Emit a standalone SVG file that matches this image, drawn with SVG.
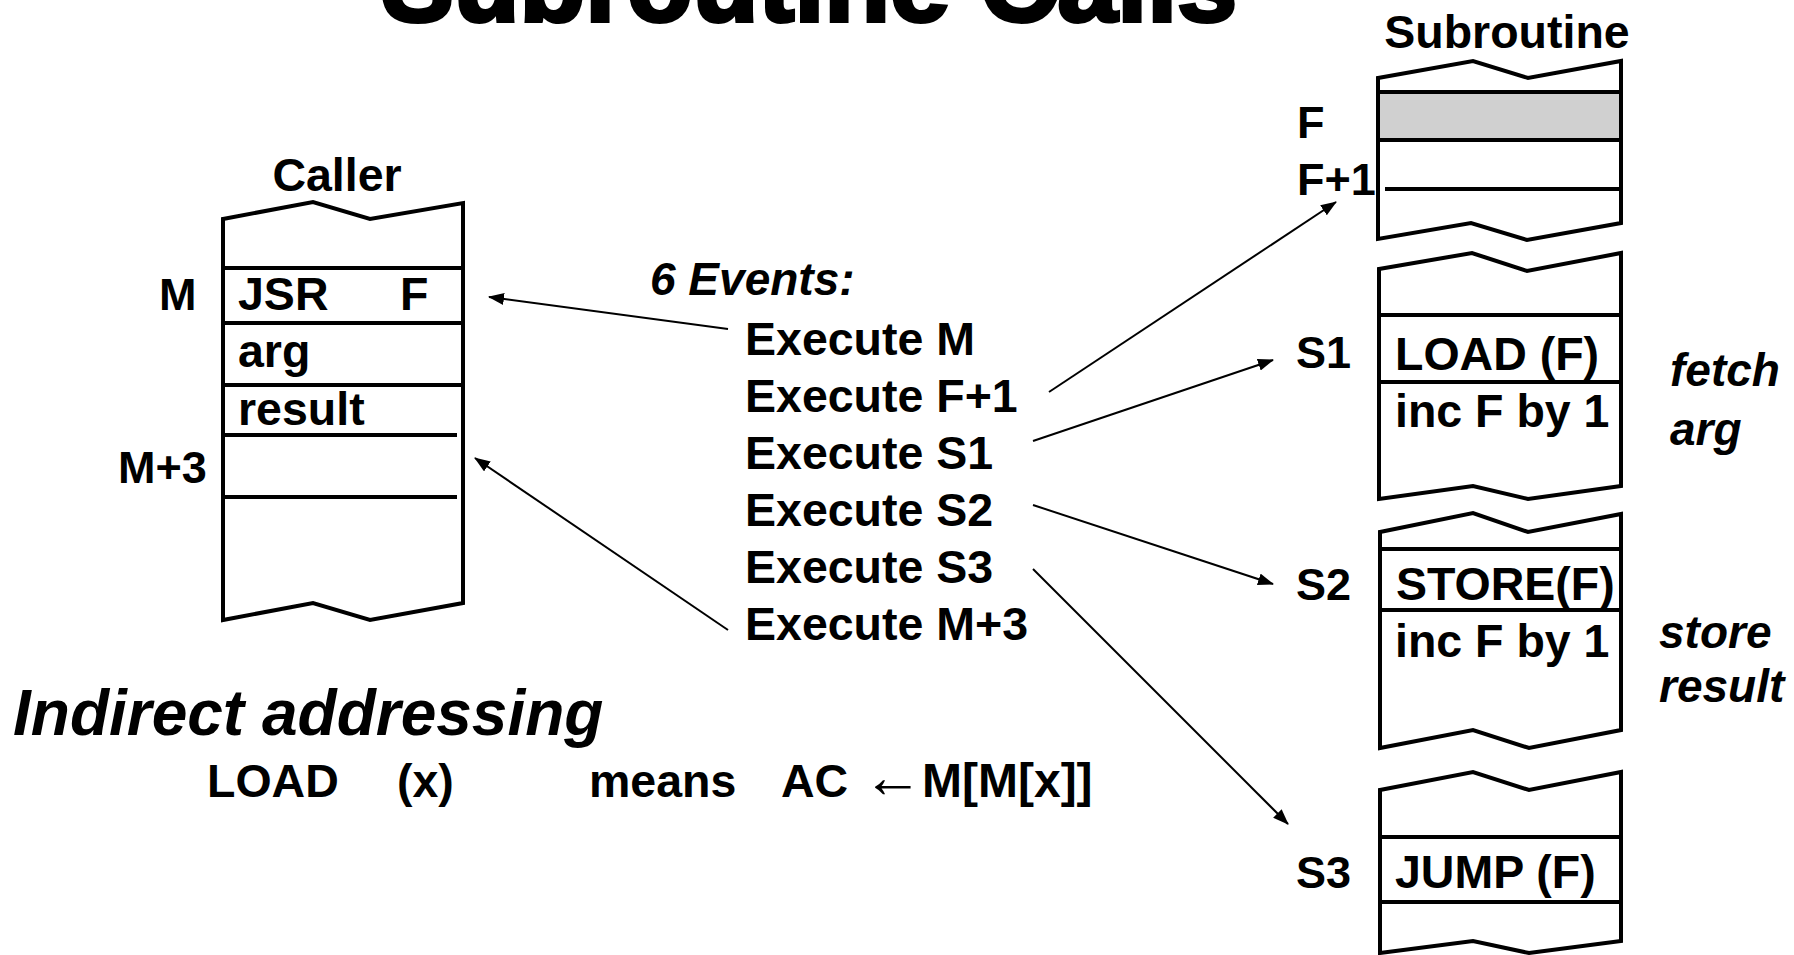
<svg xmlns="http://www.w3.org/2000/svg" width="1794" height="955" viewBox="0 0 1794 955">
  <style>
    .t { font-family: "Liberation Sans", Arial, sans-serif; font-weight: bold; fill: #000; }
    .c { font-size: 46.5px; }
    .lbl { font-size: 45px; }
    .it { font-style: italic; font-size: 46px; }
    .frame { fill: #fff; stroke: #000; stroke-width: 4; stroke-linejoin: miter; }
    .row { stroke: #000; stroke-width: 4; fill: none; }
    .conn line { stroke: #000; stroke-width: 2; marker-end: url(#arrow); }
  </style>
  <defs>
    <marker id="arrow" viewBox="0 0 16 12" refX="15" refY="6" markerWidth="16" markerHeight="12" markerUnits="userSpaceOnUse" orient="auto">
      <path d="M0,0 L16,6 L0,12 Z" fill="#000"/>
    </marker>
  </defs>
  <rect width="1794" height="955" fill="#fff"/>

  <!-- Title, partly above the top edge -->
  <text class="t" x="382" y="21" font-size="107" stroke="#000" stroke-width="4" textLength="855" lengthAdjust="spacingAndGlyphs">Subroutine Calls</text>

  <!-- Caller memory block -->
  <g id="caller">
    <text class="t c" x="337" y="191" text-anchor="middle">Caller</text>
    <path class="frame" d="M223,219 L313,202 L370,219 L463,203 L463,603 L370,620 L313,603 L223,620 Z"/>
    <line class="row" x1="223" y1="268" x2="463" y2="268"/>
    <line class="row" x1="223" y1="323" x2="463" y2="323"/>
    <line class="row" x1="223" y1="385" x2="463" y2="385"/>
    <line class="row" x1="223" y1="435" x2="457" y2="435"/>
    <line class="row" x1="223" y1="497" x2="457" y2="497"/>
    <text class="t lbl" x="159" y="310">M</text>
    <text class="t c" x="238" y="310">JSR</text>
    <text class="t c" x="400" y="310">F</text>
    <text class="t c" x="238" y="367">arg</text>
    <text class="t c" x="238" y="425">result</text>
    <text class="t lbl" x="118" y="483">M+3</text>
  </g>

  <!-- Event list -->
  <g id="events">
    <text class="t it" x="650" y="295" font-size="48">6 Events:</text>
    <text class="t c" x="745" y="355">Execute M</text>
    <text class="t c" x="745" y="412">Execute F+1</text>
    <text class="t c" x="745" y="469">Execute S1</text>
    <text class="t c" x="745" y="526">Execute S2</text>
    <text class="t c" x="745" y="583">Execute S3</text>
    <text class="t c" x="745" y="640">Execute M+3</text>
  </g>

  <!-- Subroutine header block: F and F+1 -->
  <g id="sub-head">
    <text class="t c" x="1507" y="48" text-anchor="middle">Subroutine</text>
    <path class="frame" d="M1378,78 L1473,61 L1528,78 L1621,61 L1621,223 L1527,240 L1471,223 L1378,239 Z"/>
    <rect x="1378" y="92" width="243" height="48" fill="#d0d0d0" stroke="#000" stroke-width="4"/>
    <line class="row" x1="1385" y1="189" x2="1621" y2="189"/>
    <text class="t lbl" x="1297" y="138">F</text>
    <text class="t lbl" x="1297" y="195">F+1</text>
  </g>

  <!-- S1 block -->
  <g id="sub-s1">
    <path class="frame" d="M1379,269 L1472,253 L1527,271 L1621,253 L1621,486 L1528,499 L1473,486 L1379,499 Z"/>
    <line class="row" x1="1379" y1="315" x2="1621" y2="315"/>
    <line class="row" x1="1379" y1="382" x2="1621" y2="382"/>
    <text class="t lbl" x="1296" y="368">S1</text>
    <text class="t c" x="1395" y="370">LOAD (F)</text>
    <text class="t c" x="1395" y="427">inc F by 1</text>
    <text class="t it" x="1670" y="386">fetch</text>
    <text class="t it" x="1670" y="445">arg</text>
  </g>

  <!-- S2 block -->
  <g id="sub-s2">
    <path class="frame" d="M1380,532 L1473,513 L1528,532 L1621,514 L1621,730 L1529,748 L1473,730 L1380,748 Z"/>
    <line class="row" x1="1380" y1="549" x2="1621" y2="549"/>
    <line class="row" x1="1380" y1="610" x2="1621" y2="610"/>
    <text class="t lbl" x="1296" y="600">S2</text>
    <text class="t c" x="1396" y="600">STORE(F)</text>
    <text class="t c" x="1395" y="657">inc F by 1</text>
    <text class="t it" x="1659" y="648">store</text>
    <text class="t it" x="1659" y="702">result</text>
  </g>

  <!-- S3 block -->
  <g id="sub-s3">
    <path class="frame" d="M1380,790 L1473,772 L1529,790 L1621,772 L1621,941 L1529,953 L1473,941 L1380,953 Z"/>
    <line class="row" x1="1380" y1="837" x2="1621" y2="837"/>
    <line class="row" x1="1380" y1="902" x2="1621" y2="902"/>
    <text class="t lbl" x="1296" y="888">S3</text>
    <text class="t c" x="1395" y="888">JUMP (F)</text>
  </g>

  <!-- Indirect addressing note -->
  <g id="note">
    <text class="t" x="13" y="735" font-size="64" font-style="italic">Indirect addressing</text>
    <text class="t c" x="207" y="797">LOAD</text>
    <text class="t c" x="397" y="797">(x)</text>
    <text class="t c" x="589" y="797">means</text>
    <text class="t c" x="781" y="797">AC</text>
    <text class="t" x="863" y="797" font-size="60" font-weight="normal">←</text>
    <text class="t" x="922" y="797" font-size="48">M[M[x]]</text>
  </g>

  <!-- Connectors from events to the memory cells -->
  <g id="connectors" class="conn">
    <line x1="728" y1="329" x2="489" y2="297"/>
    <line x1="728" y1="630" x2="475" y2="458"/>
    <line x1="1049" y1="392" x2="1336" y2="202"/>
    <line x1="1033" y1="441" x2="1273" y2="360"/>
    <line x1="1033" y1="505" x2="1273" y2="584"/>
    <line x1="1033" y1="569" x2="1288" y2="824"/>
  </g>
</svg>
